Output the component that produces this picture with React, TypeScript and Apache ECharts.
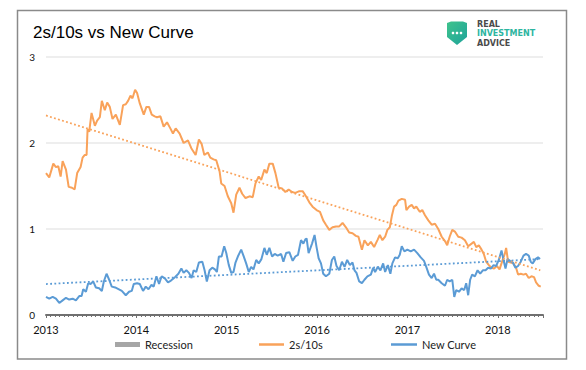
import React, { useEffect, useRef } from "react";
import * as echarts from "echarts";

const chartTitle = "2s/10s vs New Curve";
const yTicks = [0, 1, 2, 3];
const xYears = [2013, 2014, 2015, 2016, 2017, 2018];

// [year, value]
const series2s10s: [number, number][] = [
  [2013.000,1.65],[2013.036,1.60],[2013.081,1.76],[2013.110,1.72],[2013.136,1.73],[2013.162,1.61],[2013.184,1.79],[2013.221,1.69],[2013.251,1.49],[2013.287,1.48],[2013.317,1.46],[2013.345,1.65],[2013.383,1.72],[2013.405,1.83],[2013.427,1.86],[2013.449,1.86],[2013.460,2.16],[2013.478,2.13],[2013.504,2.35],[2013.541,2.20],[2013.566,2.26],[2013.596,2.30],[2013.618,2.49],[2013.651,2.38],[2013.677,2.47],[2013.706,2.42],[2013.736,2.28],[2013.773,2.33],[2013.817,2.21],[2013.853,2.44],[2013.883,2.45],[2013.908,2.49],[2013.935,2.55],[2013.957,2.52],[2013.986,2.62],[2014.008,2.58],[2014.038,2.46],[2014.082,2.33],[2014.111,2.42],[2014.140,2.42],[2014.170,2.33],[2014.203,2.31],[2014.228,2.30],[2014.266,2.31],[2014.302,2.19],[2014.339,2.24],[2014.376,2.17],[2014.405,2.11],[2014.435,2.17],[2014.479,2.11],[2014.523,2.00],[2014.571,2.03],[2014.608,1.94],[2014.656,1.86],[2014.692,2.04],[2014.722,1.99],[2014.752,1.86],[2014.791,1.89],[2014.818,1.83],[2014.854,1.81],[2014.884,1.80],[2014.921,1.67],[2014.939,1.53],[2014.976,1.50],[2015.012,1.38],[2015.050,1.30],[2015.075,1.19],[2015.105,1.40],[2015.141,1.48],[2015.171,1.41],[2015.208,1.36],[2015.252,1.38],[2015.288,1.37],[2015.318,1.53],[2015.354,1.61],[2015.381,1.57],[2015.417,1.69],[2015.443,1.65],[2015.472,1.76],[2015.509,1.76],[2015.539,1.65],[2015.575,1.48],[2015.613,1.47],[2015.649,1.43],[2015.685,1.46],[2015.723,1.43],[2015.759,1.42],[2015.804,1.44],[2015.840,1.44],[2015.877,1.38],[2015.914,1.31],[2015.950,1.26],[2015.994,1.22],[2016.032,1.20],[2016.068,1.10],[2016.098,1.05],[2016.135,0.99],[2016.171,1.02],[2016.209,1.03],[2016.245,1.03],[2016.282,1.07],[2016.319,1.02],[2016.355,0.96],[2016.392,0.95],[2016.429,0.92],[2016.458,0.91],[2016.496,0.76],[2016.524,0.87],[2016.562,0.81],[2016.595,0.85],[2016.631,0.79],[2016.668,0.87],[2016.694,0.93],[2016.723,0.87],[2016.753,0.91],[2016.778,0.99],[2016.805,1.02],[2016.827,1.15],[2016.852,1.26],[2016.877,1.28],[2016.900,1.33],[2016.937,1.35],[2016.974,1.34],[2016.988,1.22],[2017.018,1.26],[2017.047,1.28],[2017.073,1.24],[2017.098,1.26],[2017.136,1.20],[2017.164,1.22],[2017.194,1.16],[2017.231,1.10],[2017.268,1.05],[2017.305,1.06],[2017.341,1.00],[2017.379,0.91],[2017.415,0.86],[2017.440,0.81],[2017.467,0.91],[2017.496,0.99],[2017.525,0.97],[2017.562,0.91],[2017.599,0.90],[2017.636,0.87],[2017.672,0.80],[2017.710,0.83],[2017.735,0.85],[2017.761,0.79],[2017.790,0.81],[2017.820,0.76],[2017.845,0.71],[2017.871,0.62],[2017.901,0.58],[2017.930,0.55],[2017.959,0.54],[2017.989,0.57],[2018.019,0.53],[2018.047,0.62],[2018.077,0.71],[2018.092,0.78],[2018.114,0.62],[2018.143,0.61],[2018.173,0.60],[2018.202,0.55],[2018.224,0.47],[2018.254,0.48],[2018.284,0.47],[2018.312,0.48],[2018.342,0.43],[2018.372,0.45],[2018.401,0.44],[2018.423,0.38],[2018.453,0.34],[2018.475,0.33]
];

const seriesNewCurve: [number, number][] = [
  [2013.000,0.21],[2013.036,0.19],[2013.074,0.21],[2013.110,0.19],[2013.147,0.14],[2013.184,0.17],[2013.221,0.20],[2013.257,0.18],[2013.295,0.19],[2013.331,0.17],[2013.368,0.22],[2013.394,0.22],[2013.412,0.30],[2013.442,0.27],[2013.467,0.37],[2013.493,0.36],[2013.522,0.39],[2013.552,0.32],[2013.588,0.31],[2013.618,0.28],[2013.640,0.39],[2013.670,0.48],[2013.699,0.41],[2013.728,0.33],[2013.765,0.32],[2013.802,0.30],[2013.839,0.28],[2013.883,0.23],[2013.919,0.27],[2013.949,0.28],[2013.971,0.36],[2014.008,0.37],[2014.038,0.36],[2014.074,0.28],[2014.104,0.33],[2014.134,0.30],[2014.167,0.35],[2014.192,0.33],[2014.222,0.45],[2014.251,0.36],[2014.280,0.45],[2014.313,0.43],[2014.350,0.38],[2014.383,0.40],[2014.427,0.44],[2014.465,0.48],[2014.498,0.54],[2014.523,0.49],[2014.553,0.52],[2014.582,0.49],[2014.611,0.43],[2014.634,0.52],[2014.663,0.50],[2014.692,0.61],[2014.730,0.62],[2014.755,0.52],[2014.780,0.39],[2014.810,0.52],[2014.840,0.55],[2014.869,0.53],[2014.891,0.50],[2014.913,0.68],[2014.943,0.68],[2014.972,0.80],[2014.995,0.72],[2015.023,0.58],[2015.050,0.49],[2015.075,0.50],[2015.097,0.61],[2015.123,0.68],[2015.160,0.76],[2015.185,0.69],[2015.215,0.60],[2015.244,0.50],[2015.270,0.56],[2015.296,0.53],[2015.326,0.64],[2015.354,0.60],[2015.384,0.65],[2015.417,0.78],[2015.443,0.70],[2015.472,0.78],[2015.502,0.68],[2015.531,0.71],[2015.564,0.69],[2015.602,0.71],[2015.627,0.62],[2015.657,0.72],[2015.693,0.73],[2015.730,0.63],[2015.759,0.68],[2015.789,0.70],[2015.822,0.87],[2015.848,0.83],[2015.870,0.88],[2015.884,0.89],[2015.906,0.72],[2015.944,0.83],[2015.972,0.93],[2015.994,0.79],[2016.017,0.66],[2016.043,0.60],[2016.068,0.48],[2016.098,0.45],[2016.135,0.48],[2016.164,0.64],[2016.190,0.68],[2016.215,0.57],[2016.245,0.52],[2016.275,0.62],[2016.304,0.56],[2016.333,0.64],[2016.363,0.58],[2016.392,0.61],[2016.414,0.52],[2016.436,0.49],[2016.466,0.39],[2016.496,0.37],[2016.524,0.41],[2016.557,0.45],[2016.595,0.47],[2016.620,0.55],[2016.642,0.50],[2016.672,0.56],[2016.701,0.52],[2016.731,0.60],[2016.753,0.50],[2016.783,0.58],[2016.811,0.48],[2016.833,0.60],[2016.863,0.67],[2016.893,0.66],[2016.915,0.70],[2016.937,0.80],[2016.966,0.74],[2016.999,0.76],[2017.036,0.74],[2017.073,0.76],[2017.109,0.72],[2017.147,0.67],[2017.183,0.63],[2017.208,0.56],[2017.238,0.47],[2017.268,0.43],[2017.294,0.48],[2017.319,0.41],[2017.341,0.41],[2017.379,0.37],[2017.415,0.34],[2017.440,0.41],[2017.467,0.39],[2017.496,0.41],[2017.518,0.21],[2017.540,0.29],[2017.570,0.27],[2017.599,0.31],[2017.628,0.29],[2017.650,0.37],[2017.672,0.23],[2017.694,0.41],[2017.716,0.47],[2017.746,0.45],[2017.776,0.52],[2017.805,0.48],[2017.834,0.52],[2017.864,0.52],[2017.893,0.55],[2017.923,0.54],[2017.953,0.58],[2017.981,0.57],[2018.011,0.64],[2018.041,0.75],[2018.063,0.64],[2018.085,0.54],[2018.107,0.65],[2018.136,0.63],[2018.166,0.61],[2018.195,0.55],[2018.224,0.57],[2018.254,0.62],[2018.284,0.69],[2018.312,0.71],[2018.342,0.69],[2018.364,0.62],[2018.386,0.60],[2018.416,0.65],[2018.445,0.67],[2018.467,0.65]
];

// linear trend lines (endpoints)
const trend2s10s: [number, number][] = [[2013.0, 2.32], [2018.47, 0.52]];
const trendNewCurve: [number, number][] = [[2013.0, 0.36], [2018.47, 0.65]];

const legendNames = ["Recession", "2s/10s", "New Curve"];
const logoLines = ["REAL", "INVESTMENT", "ADVICE"];

const ORANGE = "#F9A25A";
const BLUE = "#5B9BD5";
const GRAY = "#A6A6A6";

export default function App() {
  const ref = useRef<HTMLDivElement>(null);
  useEffect(() => {
    const chart = echarts.init(ref.current!, null, { renderer: "svg" });
    const legendText = { fontFamily: "Lato", fontSize: 11, color: "#222" };
    const logoColors = ["#4a4a4a", "#2DB5A0", "#4a4a4a"];
    const logoTexts = logoLines.map((t, i) => ({
      type: "text",
      z: 11,
      x: 477,
      y: 24.2 + i * 9.4,
      style: {
        text: t,
        fill: logoColors[i],
        font: "bold 8px 'DejaVu Sans'",
        verticalAlign: "middle",
      },
    }));
    chart.setOption({
      animation: false,
      backgroundColor: "#fff",
      title: {
        text: chartTitle,
        left: 33,
        top: 24,
        padding: 0,
        textStyle: { fontFamily: "Liberation Sans", fontSize: 17, fontWeight: "normal", color: "#000" },
      },
      grid: { left: 46, right: 43, top: 57, bottom: 55 },
      xAxis: {
        type: "value",
        min: xYears[0],
        max: 2018.5,
        interval: 1,
        splitLine: { show: false },
        axisLine: { show: true, onZero: false, lineStyle: { color: "#707070", width: 2 } },
        axisTick: { show: true, length: 3, lineStyle: { color: "#707070" } },
        minorTick: { show: true, splitNumber: 20, length: 2, lineStyle: { color: "#707070" } },
        axisLabel: {
          margin: 9,
          fontFamily: "Lato",
          fontSize: 11,
          color: "#111",
          showMaxLabel: false,
          formatter: (v: number) => (xYears.includes(v) ? String(v) : ""),
        },
      },
      yAxis: {
        type: "value",
        min: yTicks[0],
        max: yTicks[yTicks.length - 1],
        interval: 1,
        axisLine: { show: false },
        axisTick: { show: false },
        splitLine: { show: true, lineStyle: { color: "#E8E8E8", width: 1.5 } },
        axisLabel: { margin: 11, fontFamily: "Lato", fontSize: 10, color: "#111" },
      },
      legend: [
        {
          data: [{ name: legendNames[0], icon: "rect" }],
          left: 115, top: 339, padding: 0, itemWidth: 25, itemHeight: 5, itemGap: 0,
          textStyle: legendText, selectedMode: false,
        },
        {
          data: [{ name: legendNames[1], icon: "rect" }],
          left: 259, top: 339, padding: 0, itemWidth: 25, itemHeight: 2.5, itemGap: 0,
          textStyle: legendText, selectedMode: false,
        },
        {
          data: [{ name: legendNames[2], icon: "rect" }],
          left: 391, top: 339, padding: 0, itemWidth: 26, itemHeight: 2.5, itemGap: 0,
          textStyle: legendText, selectedMode: false,
        },
      ],
      series: [
        { name: legendNames[0], type: "bar", data: [], itemStyle: { color: GRAY } },
        {
          name: legendNames[1], type: "line", data: series2s10s, showSymbol: false, symbol: "none",
          lineStyle: { color: ORANGE, width: 2 }, itemStyle: { color: ORANGE }, z: 3,
        },
        {
          name: legendNames[2], type: "line", data: seriesNewCurve, showSymbol: false, symbol: "none",
          lineStyle: { color: BLUE, width: 2 }, itemStyle: { color: BLUE }, z: 3,
        },
        {
          name: "trend2s10s", type: "line", data: trend2s10s, showSymbol: false, symbol: "none",
          lineStyle: { color: ORANGE, width: 1.8, type: [1.8, 2.4] }, z: 4,
        },
        {
          name: "trendNewCurve", type: "line", data: trendNewCurve, showSymbol: false, symbol: "none",
          lineStyle: { color: BLUE, width: 1.8, type: [1.8, 2.4] }, z: 4,
        },
      ],
      graphic: [
        {
          type: "rect", z: -10, silent: true,
          shape: { x: 17.5, y: 10.5, width: 549, height: 348.5 },
          style: { fill: "none", stroke: "#8a8a8a", lineWidth: 1.5 },
        },
        {
          type: "polygon", z: 10,
          shape: { points: [[447, 23], [451, 21.5], [463, 21.5], [467, 23], [467, 37], [457, 45], [447, 37]] },
          style: {
            fill: new echarts.graphic.LinearGradient(0, 0, 1, 1, [
              { offset: 0, color: "#3FC38C" },
              { offset: 1, color: "#1EA39B" },
            ]),
          },
        },
        { type: "circle", z: 11, shape: { cx: 453, cy: 33, r: 1.3 }, style: { fill: "#fff" } },
        { type: "circle", z: 11, shape: { cx: 457, cy: 33, r: 1.3 }, style: { fill: "#fff" } },
        { type: "circle", z: 11, shape: { cx: 461, cy: 33, r: 1.3 }, style: { fill: "#fff" } },
        ...logoTexts,
      ],
    });
    return () => chart.dispose();
  }, []);
  return (
    <div
      ref={ref}
      style={{ position: "absolute", left: 0, top: 0, width: 586, height: 370, background: "#fff" }}
    />
  );
}
